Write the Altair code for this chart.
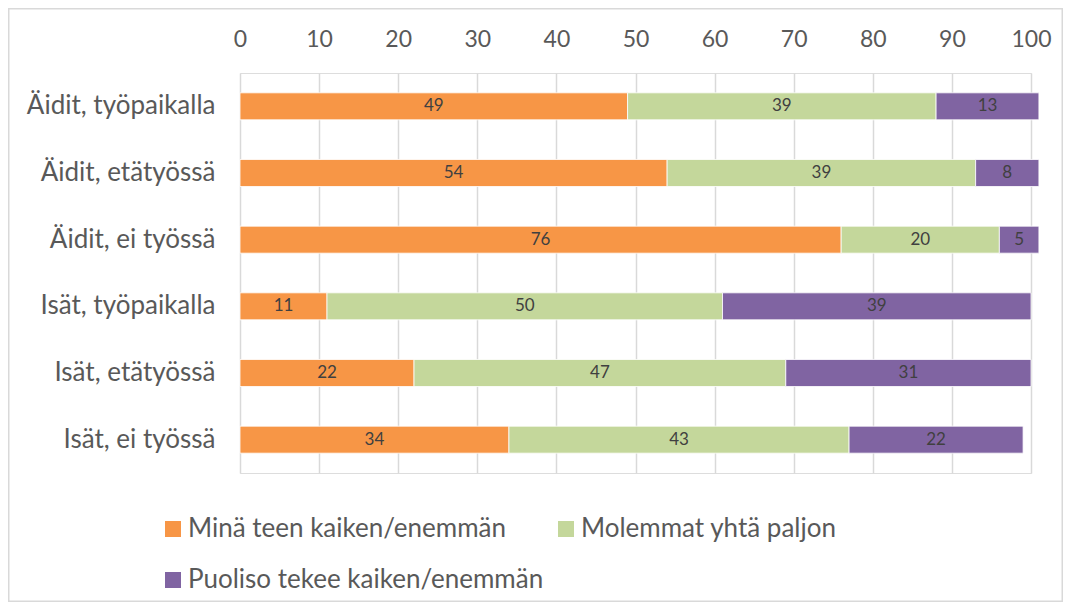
import altair as alt
import pandas as pd

groups = ["Äidit, työpaikalla", "Äidit, etätyössä", "Äidit, ei työssä",
          "Isät, työpaikalla", "Isät, etätyössä", "Isät, ei työssä"]
series = ["Minä teen kaiken/enemmän", "Molemmat yhtä paljon", "Puoliso tekee kaiken/enemmän"]
mina = [49, 54, 76, 11, 22, 34]
molemmat = [39, 39, 20, 50, 47, 43]
puoliso = [13, 8, 5, 39, 31, 22]
colors = ["#F79646", "#C4D79B", "#8064A2"]
x_ticks = [0, 10, 20, 30, 40, 50, 60, 70, 80, 90, 100]

rows = []
for si, (s, vals) in enumerate(zip(series, [mina, molemmat, puoliso])):
    for g, v in zip(groups, vals):
        rows.append({"group": g, "series": s, "value": v, "order": si})
df = pd.DataFrame(rows)

FONT = "Lato"
W, H = 791, 400
PL, PT = 232, 65
CW, CH = 1055, 594
PR = CW - PL - W
PB = CH - PT - H

y_enc = alt.Y("group:N", sort=groups, title=None,
              scale=alt.Scale(paddingInner=0.595, paddingOuter=0.2975),
              axis=alt.Axis(domain=False, ticks=False, grid=False, labelFontSize=26,
                            labelColor="#595959", labelFont=FONT, labelPadding=25,
                            labelLimit=400))

bars = alt.Chart(df).mark_bar(stroke="white", strokeWidth=0.8).encode(
    x=alt.X("value:Q", stack="zero", title=None,
            scale=alt.Scale(domain=[0, 100], nice=False),
            axis=alt.Axis(orient="top", values=x_ticks, domain=False, ticks=False,
                          grid=True, gridColor="#d9d9d9", gridWidth=1.5,
                          labelFontSize=23, labelColor="#595959", labelFont=FONT,
                          labelPadding=22, labelFlush=False, labelOverlap=False)),
    y=y_enc,
    color=alt.Color("series:N", sort=series,
                    scale=alt.Scale(domain=series, range=colors),
                    legend=alt.Legend(title=None, orient="none", legendX=-80, legendY=443,
                                      direction="horizontal",
                                      columns=2, columnPadding=9, rowPadding=25,
                                      symbolType="square", symbolSize=256,
                                      symbolStrokeWidth=0, symbolOffset=0,
                                      labelFontSize=26, labelFont=FONT,
                                      labelColor="#595959", labelLimit=500,
                                      labelOffset=2)),
    order=alt.Order("order:Q"),
)

labels = alt.Chart(df).transform_stack(
    stack="value", groupby=["group"], as_=["x1", "x2"],
    sort=[alt.SortField("order", order="ascending")]
).transform_calculate(
    mid="(datum.x1 + datum.x2) / 2"
).mark_text(fontSize=17, font=FONT, color="#404040", baseline="middle").encode(
    x=alt.X("mid:Q"),
    y=alt.Y("group:N", sort=groups),
    text=alt.Text("value:Q"),
)

border = alt.Chart(pd.DataFrame({"k": [0]})).mark_rect(
    fill=None, stroke="#d9d9d9", strokeWidth=1.5
).encode(
    x=alt.value(-PL + 0.75), x2=alt.value(W + PR - 0.75),
    y=alt.value(-PT + 0.75), y2=alt.value(H + PB - 0.75),
)

chart = alt.layer(border, bars, labels).properties(
    width=W, height=H,
    autosize=alt.AutoSizeParams(type="none"),
    padding={"left": PL, "top": PT, "right": PR, "bottom": PB},
).configure_view(stroke=None).configure(background="white")

chart.save("out.html", embed_options={"renderer": "svg", "actions": False})
